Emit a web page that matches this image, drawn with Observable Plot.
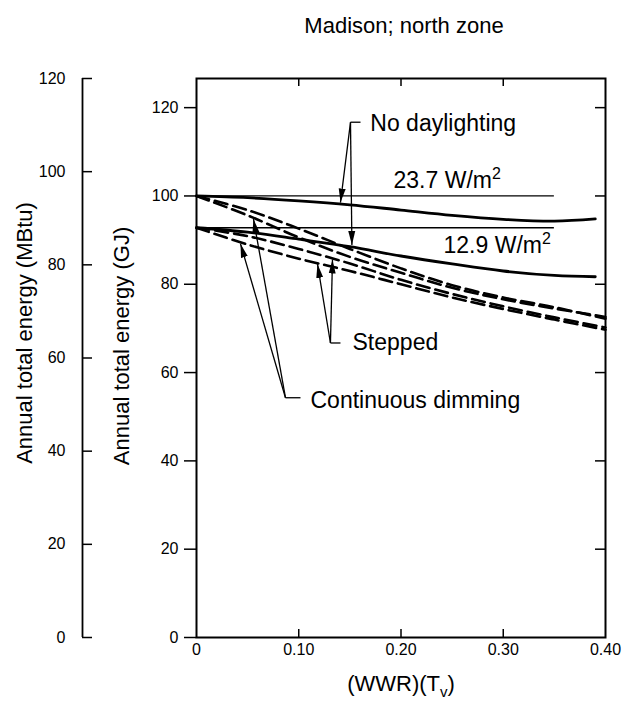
<!DOCTYPE html>
<html>
<head>
<meta charset="utf-8">
<script src="https://cdn.jsdelivr.net/npm/d3@7"></script>
<script src="https://cdn.jsdelivr.net/npm/@observablehq/plot@0.6"></script>
<style>
  html, body { margin: 0; padding: 0; background: white; }
</style>
</head>
<body>
<div id="chart"></div>
<script>
// ---------- data (GJ on main axis, x = (WWR)(Tv)) ----------
const title = "Madison; north zone";
const xLabel = "(WWR)(Tv)";
const yLabelGJ = "Annual total energy (GJ)";
const yLabelMBtu = "Annual total energy (MBtu)";
const MBTU_TO_GJ = 1.055;

const xTicks = [0, 0.10, 0.20, 0.30, 0.40];
const xInnerTicks = [0.10, 0.20, 0.30];
const gjTicks = [0, 20, 40, 60, 80, 100, 120];
const mbtuTicks = [0, 20, 40, 60, 80, 100, 120];

// thin reference lines (no daylighting, constant)
const refLevels = [100, 92.8];
const refEnd = 0.35;

// no daylighting curves (solid, thick)
const xNoDay = [0, 0.05, 0.10, 0.15, 0.20, 0.25, 0.30, 0.35, 0.39];
const noDay237 = [100, 99.6, 98.9, 98.0, 96.8, 95.6, 94.7, 94.3, 94.8];
const noDay129 = [92.8, 91.8, 90.2, 88.5, 86.4, 84.6, 83.0, 82.0, 81.7];

// daylighting curves (dashed)
const xDay = [0, 0.05, 0.10, 0.15, 0.20, 0.25, 0.30, 0.35, 0.40];
const cont237 = [100, 95.6, 90.6, 86.2, 82.6, 79.2, 76.6, 74.5, 72.6];
const step237 = [100, 96.8, 92.6, 88.0, 83.6, 79.8, 77.0, 74.8, 72.2];
const cont129 = [92.8, 89.0, 85.8, 83.0, 80.0, 77.0, 74.4, 72.0, 69.7];
const step129 = [92.8, 90.9, 88.0, 84.7, 81.0, 77.8, 75.0, 72.5, 70.2];

// annotations (data units)
const labelText = ["No daylighting", "23.7 W/m²", "12.9 W/m²", "Stepped", "Continuous dimming"];
const labelX = [0.170, 0.1927, 0.2416, 0.1526, 0.1115];
const labelY = [116.3, 103.4, 88.7, 66.7, 53.6];

const arrowX1 = [0.1506, 0.1506, 0.131, 0.131, 0.087, 0.087];
const arrowY1 = [116.7, 116.7, 66.7, 66.7, 54.3, 54.3];
const arrowX2 = [0.1408, 0.1520, 0.1183, 0.133, 0.043, 0.0557];
const arrowY2 = [98.5, 88.9, 84.6, 85.6, 89.2, 94.8];

const bracketX1 = [0.1506, 0.131, 0.087];
const bracketX2 = [0.1604, 0.1408, 0.1017];
const bracketY = [116.7, 66.7, 54.3];

// ---------- build tables ----------
const toSeries = (xs, ys) => xs.map((x, i) => ({x, y: ys[i]}));
const solidSeries = [toSeries(xNoDay, noDay237), toSeries(xNoDay, noDay129)];
const dashedSeries = [toSeries(xDay, cont237), toSeries(xDay, step237), toSeries(xDay, cont129), toSeries(xDay, step129)];
const labels = labelText.map((t, i) => ({text: t, x: labelX[i], y: labelY[i]}));
const arrows = arrowX1.map((_, i) => ({x1: arrowX1[i], y1: arrowY1[i], x2: arrowX2[i], y2: arrowY2[i]}));
const brackets = bracketX1.map((_, i) => ({x1: bracketX1[i], x2: bracketX2[i], y: bracketY[i]}));

const yTop = 120 * MBTU_TO_GJ;
const frameW = 627 - 196 - 22;
const frameH = 707 - 78 - 70;

const svg = Plot.plot({
  width: 627,
  height: 707,
  marginTop: 78,
  marginBottom: 70,
  marginLeft: 196,
  marginRight: 22,
  style: {fontFamily: "'Liberation Sans', Arial, Helvetica, sans-serif", fontSize: "16px", background: "white", color: "black"},
  x: {domain: [0, 0.4]},
  y: {domain: [0, yTop]},
  marks: [
    Plot.frame({stroke: "black", strokeWidth: 2}),
    // inward ticks
    Plot.ruleX(xInnerTicks, {insetBottom: frameH - 8, stroke: "black", strokeWidth: 1.5}),
    Plot.ruleX(xInnerTicks, {insetTop: frameH - 8, stroke: "black", strokeWidth: 1.5}),
    Plot.ruleY(gjTicks.filter(d => d > 0), {insetLeft: frameW - 10, stroke: "black", strokeWidth: 1.5}),
    // GJ axis (left)
    Plot.axisY({ticks: gjTicks, tickSize: 12, tickPadding: 6, tickFormat: d => String(d), label: null, strokeWidth: 1.5}),
    // x axis
    Plot.axisX({ticks: xTicks, tickSize: 0, tickPadding: 6, tickFormat: d => d === 0 ? "0" : d.toFixed(2), label: null}),
    // MBtu axis
    Plot.ruleX([0], {y1: 0, y2: yTop, dx: -114, stroke: "black", strokeWidth: 1.8}),
    Plot.ruleY(mbtuTicks, {y: d => d * MBTU_TO_GJ, insetRight: frameW - 10, dx: -114, stroke: "black", strokeWidth: 1.5}),
    Plot.text(mbtuTicks, {y: d => d * MBTU_TO_GJ, text: d => String(d), frameAnchor: "left", dx: -131, textAnchor: "end", fontSize: 16}),
    // reference thin lines
    Plot.ruleY(refLevels, {x1: 0, x2: refEnd, stroke: "black", strokeWidth: 1.3}),
    // solid no-daylighting curves
    ...solidSeries.map(s => Plot.line(s, {x: "x", y: "y", curve: "catmull-rom", stroke: "black", strokeWidth: 2.8})),
    // dashed daylighting curves
    ...dashedSeries.map(s => Plot.line(s, {x: "x", y: "y", curve: "catmull-rom", stroke: "black", strokeWidth: 2.6, strokeDasharray: "13,6"})),
    // annotation lines
    Plot.link(arrows, {x1: "x1", y1: "y1", x2: "x2", y2: "y2", stroke: "black", strokeWidth: 1.3, markerEnd: "arrow"}),
    Plot.link(brackets, {x1: "x1", x2: "x2", y1: "y", y2: "y", stroke: "black", strokeWidth: 1.3}),
    Plot.text(labels, {x: "x", y: "y", text: "text", textAnchor: "start", fontSize: 23}),
    // titles
    Plot.text([title], {frameAnchor: "top", dy: -61, dx: 3, fontSize: 22}),
    Plot.text([xLabel], {frameAnchor: "bottom", dy: 53, fontSize: 22}),
    Plot.text([yLabelGJ], {frameAnchor: "left", textAnchor: "middle", dx: -75, dy: -12, rotate: -90, fontSize: 22}),
    Plot.text([yLabelMBtu], {frameAnchor: "left", textAnchor: "middle", dx: -172, dy: -25, rotate: -90, fontSize: 22})
  ]
});

// filled arrowheads
d3.select(svg).selectAll("marker").each(function() {
  const m = d3.select(this);
  m.attr("viewBox", "-14 -4 15 8")
   .attr("markerWidth", 15).attr("markerHeight", 8)
   .attr("markerUnits", "userSpaceOnUse")
   .attr("fill", "black").attr("stroke", "none");
  m.selectAll("*").remove();
  m.append("path").attr("d", "M-14,-3.5L0,0L-14,3.5Z");
});

// subscript v in the x label
d3.select(svg).selectAll("text").filter(function() { return this.textContent === xLabel; }).each(function() {
  const t = d3.select(this);
  t.text("(WWR)(T");
  t.append("tspan").attr("dy", 6).attr("font-size", 15).text("v");
  t.append("tspan").attr("dy", -6).text(")");
});

// superscript 2 in W/m²
d3.select(svg).selectAll("text").filter(function() { return this.childElementCount === 0 && this.textContent.endsWith("W/m²"); }).each(function() {
  const t = d3.select(this);
  const base = this.textContent.slice(0, -1);
  t.text(base);
  t.append("tspan").attr("dy", -9).attr("font-size", 16).text("2");
});

document.getElementById("chart").appendChild(svg);
</script>
</body>
</html>
